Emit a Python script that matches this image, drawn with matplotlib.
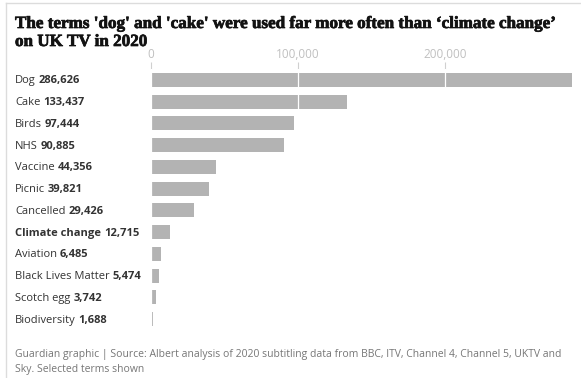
import matplotlib.pyplot as plt
import matplotlib.patheffects as pe
from matplotlib.lines import Line2D

terms = ["Dog", "Cake", "Birds", "NHS", "Vaccine", "Picnic", "Cancelled",
         "Climate change", "Aviation", "Black Lives Matter", "Scotch egg", "Biodiversity"]
counts = [286626, 133437, 97444, 90885, 44356, 39821, 29426,
          12715, 6485, 5474, 3742, 1688]
highlight = "Climate change"
ticks = [0, 100000, 200000]
tick_labels = ["0", "100,000", "200,000"]

W, H = 581, 378
fig = plt.figure(figsize=(W / 100, H / 100), dpi=100)
sans = "Open Sans"

# frame lines like the page border
fig.add_artist(Line2D([6 / W, 6 / W], [0, 1 - 3 / H], color="#dcdcdc", lw=1))
fig.add_artist(Line2D([6 / W, 1], [1 - 3 / H, 1 - 3 / H], color="#dcdcdc", lw=1))

thick = [pe.withStroke(linewidth=0.5, foreground="#121212")]
fig.text(15 / W, 1 - 28 / H, "The terms 'dog' and 'cake' were used far more often than \u2018climate change\u2019",
         fontsize=12.3, fontweight="bold", family="Liberation Serif", color="#121212",
         path_effects=thick)
fig.text(15 / W, 1 - 46 / H, "on UK TV in 2020",
         fontsize=12.3, fontweight="bold", family="Liberation Serif", color="#121212",
         path_effects=thick)

x0, x1 = 151, 572
top, bot = 69, 330
ax = fig.add_axes([x0 / W, 1 - bot / H, (x1 - x0) / W, (bot - top) / H])
ypos = list(range(len(terms)))
ax.barh(ypos, counts, height=0.64, color="#b3b3b3", zorder=2)
ax.set_xlim(0, counts[0])
ax.set_ylim(len(terms) - 0.5, -0.5)
for t in ticks:
    ax.axvline(t, color="white", lw=0.9, zorder=3)
ax.set_xticks(ticks)
ax.set_xticklabels(tick_labels)
ax.xaxis.tick_top()
ax.tick_params(axis="x", length=5, width=0.8, color="#d0d0d0", labelcolor="#c0c0c0",
               labelsize=8.5, pad=1)
for lab in ax.get_xticklabels():
    lab.set_family(sans)
ax.set_yticks([])
for s in ax.spines.values():
    s.set_visible(False)

# row labels: name normal, value bold
renderer = fig.canvas.get_renderer()
for i, (name, val) in enumerate(zip(terms, counts)):
    yc = 80 + i * (319 - 80) / 11
    yf = 1 - (yc + 1) / H
    wt = "bold" if name == highlight else "normal"
    t = fig.text(15 / W, yf, name, fontsize=8, family=sans, color="#333333",
                 va="center", fontweight=wt)
    bb = t.get_window_extent(renderer)
    fig.text((bb.x1 + 3) / W, yf, f"{val:,}", fontsize=8, family=sans, color="#333333",
             va="center", fontweight="bold")

fig.text(15 / W, 1 - 357 / H,
         "Guardian graphic | Source: Albert analysis of 2020 subtitling data from BBC, ITV, Channel 4, Channel 5, UKTV and",
         fontsize=7.5, family=sans, color="#767676")
fig.text(15 / W, 1 - 372 / H, "Sky. Selected terms shown",
         fontsize=7.5, family=sans, color="#767676")

fig.savefig("out.png", dpi=100)
